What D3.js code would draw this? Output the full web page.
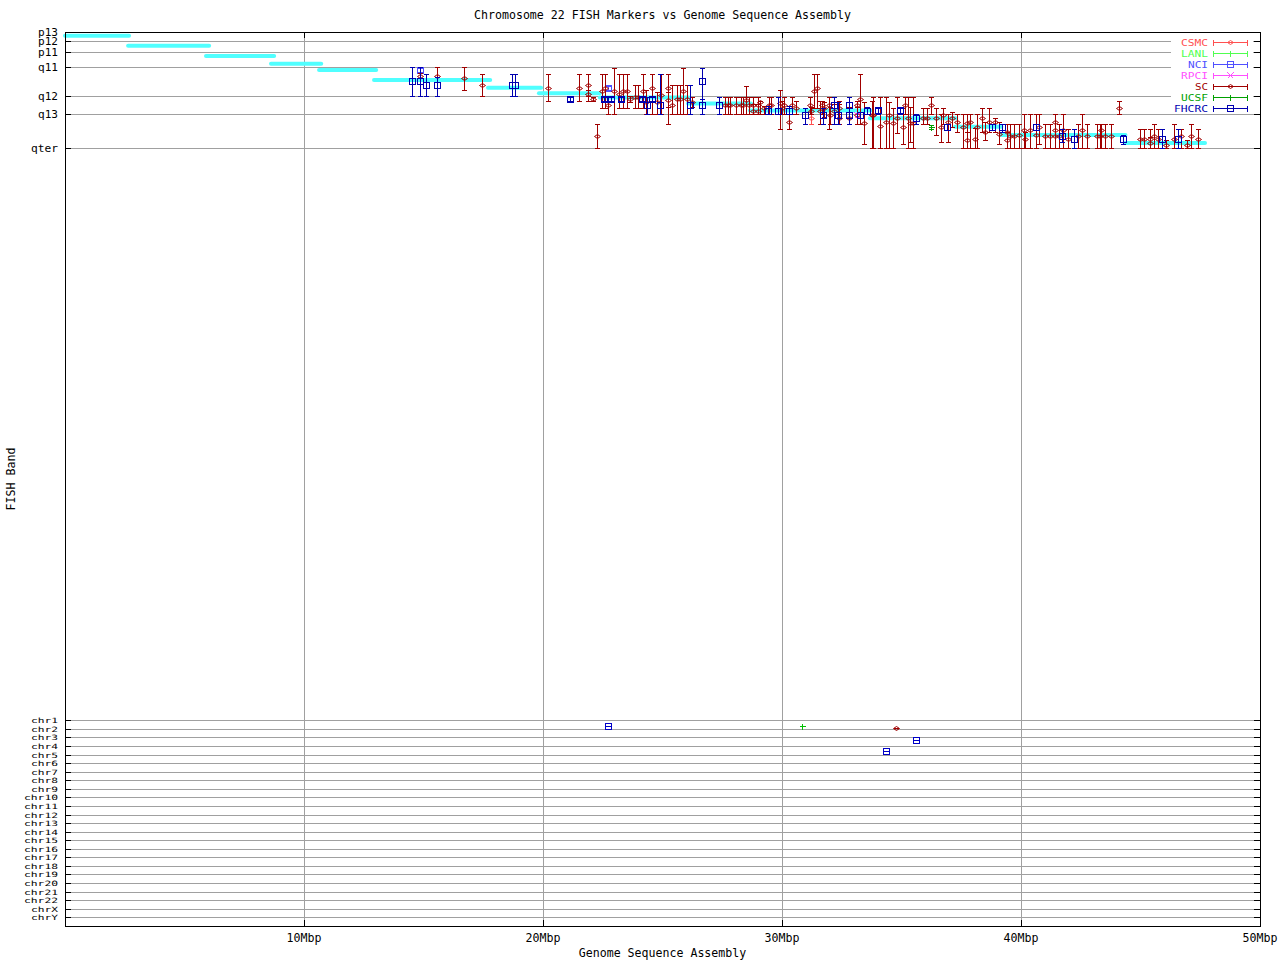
<!DOCTYPE html>
<html><head><meta charset="utf-8">
<script src="https://cdn.jsdelivr.net/npm/d3@7"></script>
<style>
body{margin:0;background:#fff}
svg{display:block}
text{font-family:"DejaVu Sans Mono","Liberation Mono",monospace;font-size:11.6px;fill:#000}
</style>
</head><body><svg id="c" width="1280" height="960"></svg>
<script>
// ---------------- DATA ----------------
const titleText = "Chromosome 22 FISH Markers vs Genome Sequence Assembly";
const xLabelText = "Genome Sequence Assembly";
const yLabelText = "FISH Band";
const xTickValues = [10, 20, 30, 40, 50];
const xTickLabels = ["10Mbp", "20Mbp", "30Mbp", "40Mbp", "50Mbp"];
const bandLabels = ["p13", "p12", "p11", "q11", "q12", "q13", "qter"];
const bandPos = [0, 9, 20, 35, 64, 82, 116];
const chrLabels = ["chr1","chr2","chr3","chr4","chr5","chr6","chr7","chr8","chr9","chr10","chr11","chr12",
  "chr13","chr14","chr15","chr16","chr17","chr18","chr19","chr20","chr21","chr22","chrX","chrY"];

// sequence assembly segments (Mbp start, Mbp end, band position)
const asmStart = [0.00, 2.64, 5.90, 8.62, 10.63, 12.93, 17.70, 19.83, 22.38, 26.07, 28.66, 33.68, 37.24, 39.16, 44.35];
const asmEnd   = [2.68, 6.03, 8.75, 10.72, 13.02, 17.79, 19.92, 22.38, 26.10, 28.70, 33.70, 37.26, 39.18, 44.37, 47.70];
const asmPos   = [3.7, 13.7, 24, 31.7, 38, 48, 55.7, 61.3, 65.5, 71.5, 78.5, 86.3, 94.7, 103, 111];

const labs = ["CSMC", "LANL", "NCI", "RPCI", "SC", "UCSF", "FHCRC"];
const labColors = ["#ff5050", "#50ff50", "#5050ff", "#ff50ff", "#a00000", "#00a000", "#0000b0"];
const labSymbols = ["diamond", "plus", "square", "cross", "diamond", "plus", "square"];

// markers: [Mbp, band position, low, high]
const csmcMarkers = [[31.21, 86.3, 82.3, 92.3]];
const lanlMarkers = [];
const nciMarkers = [[14.87, 38, 36, 40], [22.73, 55.7, 54, 57.5]];
const rpciMarkers = [[33.13, 83, 81, 85]];
const ucsfMarkers = [[36.25, 94.7, 93, 96.5]];
const scMarkers = [
  [14.87,43.7,41,46],[15.58,43.7,35,45],[16.71,46.3,35.3,58],[17.46,53,42.3,64],
  [20.22,56.3,42.3,69.3],[21.52,56.3,42.3,69.3],[21.90,53,42.3,69.3],[21.90,61.7,58,64],
  [22.10,67,65,69],[22.27,104.3,92.3,116.3],[22.46,59,42.3,75.7],[22.59,56.3,42.3,75.7],
  [22.73,73,69,82.3],[22.98,59,35.7,82.3],[23.19,61.7,42.3,75.7],[23.36,59,42.3,75.7],
  [23.53,59,42.3,75.7],[23.64,67,64,70],[23.85,65,53,75.7],[23.99,65,53,75.7],
  [24.20,59,42.3,75.7],[24.31,69.7,58,82.3],[24.55,56.3,42.3,82.3],[24.78,69.7,60,82.3],
  [24.92,63,42.3,82.3],[25.24,56.3,42.3,92.3],[25.24,67.7,60,75],[25.38,73,53,82.3],
  [25.59,67,53,82.3],[25.73,67,53,82.3],[25.87,59,35.7,82.3],[26.01,67,53,82.3],
  [26.22,69.7,65,75],
  [27.62,73.3,64.7,82.3],[27.73,73.3,64.7,82.3],[27.82,73.3,64.7,82.3],[28.06,73.3,64.7,82.3],
  [28.28,73.3,64.7,82.3],[28.38,73.3,64.7,82.3],[28.51,67.7,53.7,82.3],[28.63,73.3,64.7,82.3],
  [28.77,73.3,64.7,82.3],[28.77,79,72,82.3],[29.01,73.3,64.7,82.3],[29.01,79,72,82.3],
  [29.08,70.3,68.7,82.3],[29.26,76.3,74,82.3],[29.47,73.3,64.7,82.3],[29.54,73.3,64.7,82.3],
  [29.92,71,58.3,97],[29.99,75.7,68.7,82.3],[30.07,73.3,64.7,82.3],[30.31,90,82.3,97],
  [30.43,73.3,64.7,82.3],[30.60,75.7,68.7,82.3],[31.18,73.3,64.7,82.3],[31.21,79,75,82.3],
  [31.35,59,42.3,75.7],[31.48,56.3,42.3,75.7],[31.59,79,68.7,92.3],[31.67,73.3,68.7,82.3],
  [31.76,76.3,70,85],[31.98,73.3,64.7,97],[32.00,83,75,92.3],[32.19,79,72,92.3],
  [32.40,86.3,68.7,92.3],[32.40,76.3,72,82.3],[32.82,86.3,75,92.3],[33.13,73,68.7,92.3],
  [33.13,83,75,92.3],[33.26,67,42.3,92.3],[33.44,91.3,69.7,112.3],[33.75,83,68.7,115.7],
  [33.82,83,64.7,115.7],[34.10,94,64.7,115.7],[34.35,89.7,64.7,115.7],[34.49,83,69.7,115.7],
  [34.66,91.3,75.7,115.7],[34.80,86,64.7,101],[35.08,94.7,75.7,112.3],[35.15,73,64.7,82.3],
  [35.28,86.3,64.7,115.7],[35.36,91.3,75,110],[35.49,91.3,64.7,115.7],[35.91,86.3,75.7,92.3],
  [36.08,86.3,75.7,92.3],[36.25,73,64.7,82.3],[36.43,86.3,75.7,103],[36.65,94.7,82.3,109.7],
  [36.72,83,75.7,92.3],[36.96,89.7,82.3,109.7],[37.10,86.3,80,95],[37.31,89.7,82.3,100],
  [37.59,94.7,82.3,115.7],[37.73,91.3,82.3,115.7],[37.75,108,99.7,115.7],[37.87,89.7,82.3,115.7],
  [38.08,107,96.3,115.7],[38.15,94.7,82.3,115.7],[38.36,86.3,75.7,99.7],[38.49,99.7,90,108],
  [38.67,89.7,75.7,99.7],[38.91,90.3,86.3,99.7],[39.09,102.3,89.7,112.3],[39.40,99.7,92.3,115.7],
  [39.40,108,100,115.7],[39.54,103.7,92.3,115.7],[39.71,103.7,92.3,115.7],[39.93,103,92.3,115.7],
  [40.13,98,82.3,115.7],[40.17,107,100,115.7],[40.38,98,82.3,115.7],[40.62,103,82.3,115.7],
  [40.75,94.7,82.3,112.3],[41.00,103.7,92.3,115.7],[41.21,103.7,92.3,115.7],[41.42,90.3,82.3,115.7],
  [41.42,98,82.3,115.7],[41.42,103.7,82.3,115.7],[41.59,103.7,92.3,115.7],[41.77,98,82.3,115.7],
  [41.98,107,97,115.7],[42.40,103.7,92.3,115.7],[42.56,98,82.3,115.7],[42.75,103.7,92.3,115.7],
  [43.17,103.7,92.3,115.7],[43.31,103.7,92.3,115.7],[43.35,98,92.3,115.7],[43.51,103.7,92.3,115.7],
  [43.77,103.7,92.3,115.7],[44.10,76.3,69,82.3],[44.98,107,97,115.7],[45.16,107,97,115.7],
  [45.40,107,97,115.7],[45.40,111.3,105,115.7],[45.58,103.7,92.3,115.7],[45.74,107,97,115.7],
  [46.05,113,108,115.7],[46.41,107,92.3,115.7],[46.69,103.7,97,115.7],[46.93,113,108,115.7],
  [47.11,103.7,92.3,115.7],[47.39,107,97,115.7]
];
const fhcrcMarkers = [
  [14.51,49,35.3,64],[14.87,49,35.3,64],[15.12,53.3,42.3,64],[15.58,53,45,64],
  [18.69,53.3,42.3,64],[18.83,53.3,42.3,64],[21.14,67,65,69],[22.55,67,65,69],
  [22.86,67,65,69],[23.28,67,65,69],[24.15,67,65,69],[24.36,73.3,64.7,82.3],
  [24.55,67,65,69],[24.90,73.3,42.3,82.3],[26.14,73.3,53,82.3],[26.67,49,35.7,67],
  [26.67,73.3,67,82.3],[27.38,73.3,64.7,82.3],[29.43,79,74,82.3],[29.85,79,64.7,82.3],
  [30.31,79,74,82.3],[30.96,83,75.7,92.3],[31.73,83,75.7,92.3],[32.19,73.3,64.7,92.3],
  [32.33,83,69.7,92.3],[32.80,73.3,64.7,92.3],[32.80,83,64.7,92.3],[33.26,83,80,86],
  [33.57,79,75,82],[34.03,78,75.7,82.3],[34.94,78,75.7,82.3],[35.61,86.3,82.3,92.3],
  [36.89,94.7,92,97.5],[38.77,94.7,92,97.5],[39.22,94.7,91.5,100],[40.62,94.7,92,97.5],
  [41.70,103.7,97,110],[42.23,107,97,115.7],[44.28,107,103,112],[45.89,107,97,115.7],
  [46.56,107,97,115.7]
];
const labMarkers = [csmcMarkers, lanlMarkers, nciMarkers, rpciMarkers, scMarkers, ucsfMarkers, fhcrcMarkers];

// markers mapped to other chromosomes
const offChrLabs = ["FHCRC", "UCSF", "SC", "FHCRC", "FHCRC"];
const offChrMbp  = [22.73, 30.85, 34.78, 35.62, 34.36];
const offChrPos  = [1.70, 1.70, 1.93, 3.33, 4.62];

// ---------------- DRAW ----------------
const svg = d3.select("#c");
const L = 65, R = 1260, T = 32, B = 926;
const x = d3.scaleLinear().domain([0, 50]).range([L, R]);
const yBand = d3.scaleLinear().domain([0, 116]).range([T, 148]);
const yChr = d3.scaleLinear().domain([1, 24]).range([720.3, 917.3]);
const px = v => Math.round(v) + 0.5;
const GRID = "#a0a0a0";
const CHAR_W = 7;

const gGrid = svg.append("g").attr("shape-rendering", "crispEdges");
bandPos.forEach(p => gGrid.append("line").attr("x1", L).attr("x2", R)
  .attr("y1", px(yBand(p))).attr("y2", px(yBand(p))).attr("stroke", GRID));
chrLabels.forEach((c, i) => gGrid.append("line").attr("x1", L).attr("x2", R)
  .attr("y1", px(yChr(i + 1))).attr("y2", px(yChr(i + 1))).attr("stroke", GRID));
xTickValues.forEach(v => gGrid.append("line").attr("x1", px(x(v))).attr("x2", px(x(v)))
  .attr("y1", T).attr("y2", B).attr("stroke", GRID));

// sequence assembly segments
const gAsm = svg.append("g");
asmStart.forEach((s, i) => gAsm.append("line")
  .attr("x1", x(s)).attr("x2", x(asmEnd[i]))
  .attr("y1", yBand(asmPos[i])).attr("y2", yBand(asmPos[i]))
  .attr("stroke", "#50ffff").attr("stroke-width", 4).attr("stroke-linecap", "round"));

function glyph(g, sym, color, cx, cy) {
  const X = Math.round(cx) + 0.5, Y = Math.round(cy) + 0.5;
  if (sym === "diamond") {
    g.append("path").attr("d", `M${X-3},${Y}L${X},${Y-2}L${X+3},${Y}L${X},${Y+2}Z`)
      .attr("fill", "none").attr("stroke", color);
  } else if (sym === "square") {
    g.append("rect").attr("x", X - 3).attr("y", Y - 3).attr("width", 6).attr("height", 6)
      .attr("fill", "none").attr("stroke", color).attr("shape-rendering", "crispEdges");
  } else if (sym === "plus") {
    g.append("path").attr("d", `M${X-3},${Y}H${X+3}M${X},${Y-3}V${Y+3}`)
      .attr("stroke", color).attr("shape-rendering", "crispEdges");
  } else {
    g.append("path").attr("d", `M${X-3},${Y-3}L${X+3},${Y+3}M${X-3},${Y+3}L${X+3},${Y-3}`)
      .attr("stroke", color).attr("shape-rendering", "crispEdges");
  }
}
function errorBar(g, color, cx, ylo, yhi) {
  const X = Math.round(cx) + 0.5;
  const y1 = Math.round(ylo) + 0.5, y2 = Math.round(yhi) + 0.5;
  g.append("path").attr("d", `M${X},${y1}V${y2}M${X-2.5},${y1}H${X+2.5}M${X-2.5},${y2}H${X+2.5}`)
    .attr("stroke", color).attr("fill", "none").attr("shape-rendering", "crispEdges");
}

const gMarks = svg.append("g");
labs.forEach((lab, li) => {
  const col = labColors[li], sym = labSymbols[li];
  labMarkers[li].forEach(m => {
    errorBar(gMarks, col, x(m[0]), yBand(m[2]), yBand(m[3]));
    glyph(gMarks, sym, col, x(m[0]), yBand(m[1]));
  });
});
offChrLabs.forEach((lab, i) => {
  const li = labs.indexOf(lab);
  const col = li === 6 ? "#0000c8" : (li === 5 ? "#00c000" : labColors[li]);
  errorBar(gMarks, col, x(offChrMbp[i]), yChr(offChrPos[i]), yChr(offChrPos[i]));
  glyph(gMarks, labSymbols[li], col, x(offChrMbp[i]), yChr(offChrPos[i]));
});

// axes frame & ticks
const gAx = svg.append("g").attr("shape-rendering", "crispEdges");
gAx.append("rect").attr("x", L + 0.5).attr("y", T + 0.5).attr("width", R - L).attr("height", B - T)
  .attr("fill", "none").attr("stroke", "#000");
const yTickYs = bandPos.map(p => px(yBand(p))).concat(chrLabels.map((c, i) => px(yChr(i + 1))));
yTickYs.forEach(yy => {
  gAx.append("line").attr("x1", L).attr("x2", L + 6).attr("y1", yy).attr("y2", yy).attr("stroke", "#000");
  gAx.append("line").attr("x1", R - 6).attr("x2", R).attr("y1", yy).attr("y2", yy).attr("stroke", "#000");
});
xTickValues.forEach(v => {
  const xx = px(x(v));
  gAx.append("line").attr("x1", xx).attr("x2", xx).attr("y1", B).attr("y2", B - 6).attr("stroke", "#000");
  gAx.append("line").attr("x1", xx).attr("x2", xx).attr("y1", T).attr("y2", T + 6).attr("stroke", "#000");
});

// tick labels
const gTxt = svg.append("g");
bandLabels.forEach((b, i) => gTxt.append("text").attr("x", 58).attr("y", yBand(bandPos[i]) + 3.5)
  .attr("text-anchor", "end").style("font-size", "10px")
  .attr("textLength", b.length * CHAR_W - 1).attr("lengthAdjust", "spacingAndGlyphs").text(b));
chrLabels.forEach((c, i) => gTxt.append("text").attr("x", 58).attr("y", yChr(i + 1) + 3)
  .attr("text-anchor", "end").style("font-size", "7.3px")
  .attr("textLength", c.length * CHAR_W - 1).attr("lengthAdjust", "spacingAndGlyphs").text(c));
xTickLabels.forEach((t, i) => gTxt.append("text").attr("x", x(xTickValues[i])).attr("y", 942)
  .attr("text-anchor", "middle").text(t));

gTxt.append("text").attr("x", (L + R) / 2).attr("y", 19).attr("text-anchor", "middle").text(titleText);
gTxt.append("text").attr("x", (L + R) / 2).attr("y", 957).attr("text-anchor", "middle").text(xLabelText);
gTxt.append("text").attr("transform", `translate(15,${(T + B) / 2}) rotate(-90)`)
  .attr("text-anchor", "middle").text(yLabelText);

// legend
const gLeg = svg.append("g");
gLeg.append("rect").attr("x", 1171).attr("y", 37).attr("width", 82).attr("height", 76).attr("fill", "#fff");
labs.forEach((lab, i) => {
  const yy = 42 + i * 11;
  gLeg.append("text").attr("x", 1208).attr("y", yy + 3.5).attr("text-anchor", "end")
    .style("font-size", "9px").style("fill", labColors[i])
    .attr("textLength", lab.length * CHAR_W - 1).attr("lengthAdjust", "spacingAndGlyphs").text(lab);
  const Y = yy + 0.5;
  gLeg.append("path").attr("d", `M1213.5,${Y}H1247.5M1213.5,${Y-3}V${Y+3}M1247.5,${Y-3}V${Y+3}`)
    .attr("stroke", labColors[i]).attr("fill", "none").attr("shape-rendering", "crispEdges");
  glyph(gLeg, labSymbols[i], labColors[i], 1230, yy);
});
</script></body></html>
